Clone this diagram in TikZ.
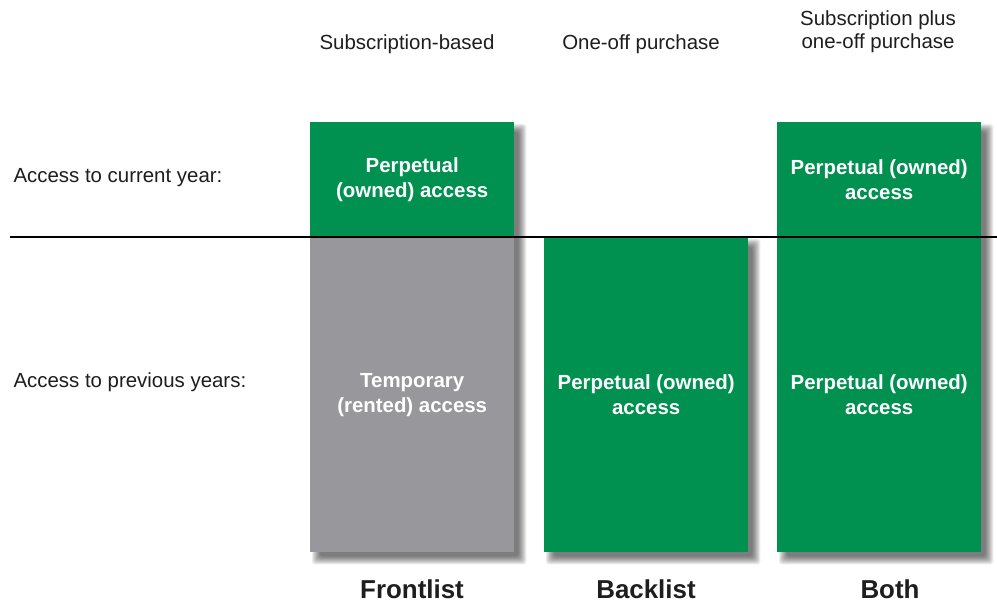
\documentclass[tikz,border=0pt]{standalone}
\usepackage{fontspec}
\setmainfont{Liberation Sans}
\usetikzlibrary{calc}
\pgfdeclarelayer{background}
\pgfsetlayers{background,main}
\definecolor{boxgreen}{HTML}{00904F}
\definecolor{boxgray}{HTML}{98989C}
\definecolor{txt}{HTML}{1E1E1E}
\begin{document}
\begin{tikzpicture}[x=1bp,y=-1bp,
  colbox/.style={anchor=north west,inner sep=0pt,minimum width=204bp,
    text=white,align=center,font=\fontsize{20.5}{25}\selectfont\bfseries},
  greenbox/.style={colbox,fill=boxgreen},
  graybox/.style={colbox,fill=boxgray},
  shadowlayer/.style={fill=black,opacity=0.075,rounded corners=3bp},
  head/.style={text=txt,align=center,font=\fontsize{20.5}{23}\selectfont},
  rowlab/.style={text=txt,anchor=west,font=\fontsize{20.5}{24}\selectfont},
  collab/.style={text=txt,font=\fontsize{26}{30}\selectfont\bfseries}]
\useasboundingbox (0,0) rectangle (997,607);

% headers
\node[head] (h1) at (407,44) {Subscription-based};
\node[head] (h2) at (641,44) {One-off purchase};
\node[head] (h3) at (878,32) {Subscription plus\\one-off purchase};

% row labels
\node[rowlab] (r1) at (10,178) {Access to current year:};
\node[rowlab] (r2) at (10,382) {Access to previous years:};

% boxes
\node[greenbox,minimum height=115bp] (fTop) at (310,122) {Perpetual\\(owned) access};
\node[greenbox,minimum height=115bp] (bTop) at (777,122) {Perpetual (owned)\\access};
\node[graybox,minimum height=315bp] (fBot) at (310,237) {Temporary\\(rented) access};
\node[greenbox,minimum height=315bp] (kBot) at (544,237) {Perpetual (owned)\\access};
\node[greenbox,minimum height=315bp] (bBot) at (777,237) {Perpetual (owned)\\access};

% soft drop shadows
\begin{pgfonlayer}{background}
\fill[white] (0,0) rectangle (997,607);
\foreach \a/\b in {fTop.north west/fBot.south east,kBot.north west/kBot.south east,bTop.north west/bBot.south east}{
  \foreach \s in {-3,...,5}{
    \fill[shadowlayer] ($(\a)+(7-\s,7-\s)$) rectangle ($(\b)+(7+\s,7+\s)$);
  }
}
\end{pgfonlayer}

% divider
\coordinate (L1) at (10,237);
\coordinate (L2) at (997,237);
\draw[black,line width=2bp] (L1) -- (L2);

% column labels
\node[collab] (c1) at (412,589) {Frontlist};
\node[collab] (c2) at (646,589) {Backlist};
\node[collab] (c3) at (890,589) {Both};
\end{tikzpicture}
\end{document}
